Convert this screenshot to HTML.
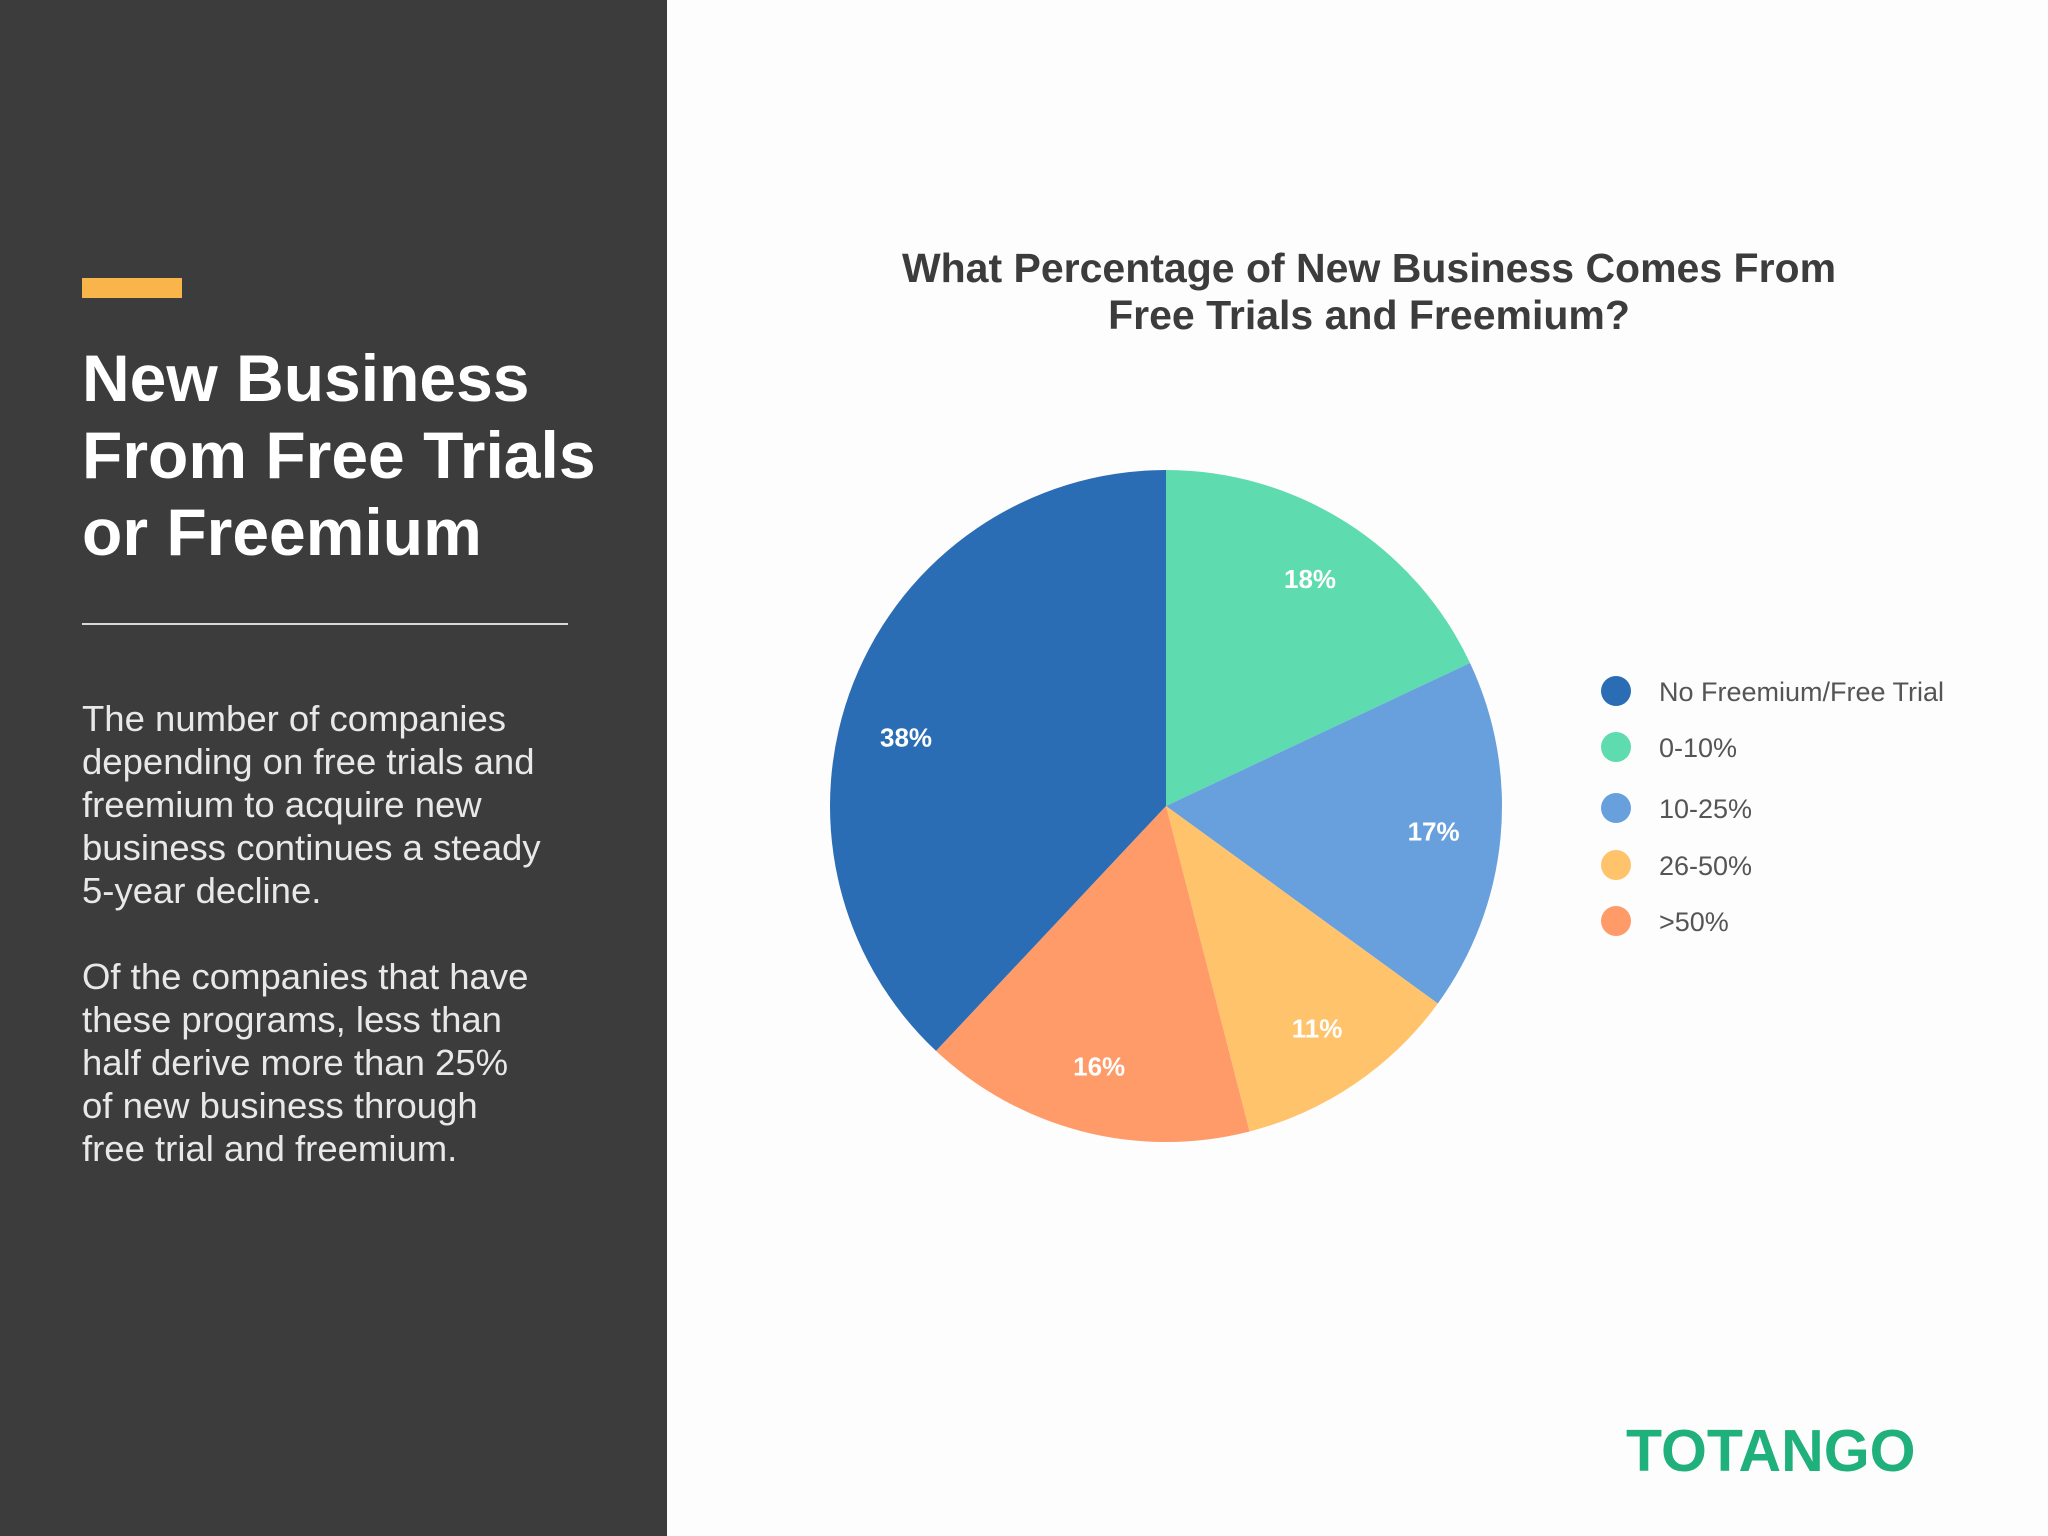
<!DOCTYPE html>
<html><head><meta charset="utf-8"><style>
body{margin:0;width:2048px;height:1536px;overflow:hidden;background:#fdfdfd;font-family:"Liberation Sans",sans-serif;position:relative}
#panel{position:absolute;left:0;top:0;width:667px;height:1536px;background:#3d3c3d}
#bar{position:absolute;left:82px;top:278px;width:100px;height:20px;background:#f9b54a}
#title{position:absolute;left:82px;top:340px;color:#fff;font-weight:bold;font-size:66px;line-height:77px}
#rule{position:absolute;left:82px;top:623px;width:486px;height:2px;background:#d8d8d8}
.body{position:absolute;left:82px;color:#e8e8e8;font-size:36.5px;line-height:43px}
#ctitle{position:absolute;left:769px;width:1200px;top:245px;text-align:center;color:#3d3c3d;font-weight:bold;font-size:41px;line-height:47px}
#logo{position:absolute;left:1626px;top:1417px;color:#1fb07c;font-weight:bold;font-size:59px;letter-spacing:0px}
</style></head><body>
<div id="panel"></div>
<div id="bar"></div>
<div id="title">New Business<br>From Free Trials<br>or Freemium</div>
<div id="rule"></div>
<div class="body" style="top:697px">The number of companies<br>depending on free trials and<br>freemium to acquire new<br>business continues a steady<br>5-year decline.</div>
<div class="body" style="top:955px">Of the companies that have<br>these programs, less than<br>half derive more than 25%<br>of new business through<br>free trial and freemium.</div>
<div id="ctitle">What Percentage of New Business Comes From<br>Free Trials and Freemium?</div>
<svg id="chart" width="2048" height="1536" style="position:absolute;left:0;top:0"></svg>
<div id="logo">TOTANGO</div>
<script>
const categories=["0-10%","10-25%","26-50%",">50%","No Freemium/Free Trial"];
const values=[18,17,11,16,38];
const colors=["#5fdbb0","#68a0dd","#ffc36b","#ff9a69","#2a6db5"];
const legendOrder=["No Freemium/Free Trial","0-10%","10-25%","26-50%",">50%"];
const svg=document.getElementById('chart');const NS='http://www.w3.org/2000/svg';
const cx=1166,cy=806,r=336;
const total=values.reduce((a,b)=>a+b,0);
let a0=0;
values.forEach((v,i)=>{
 const a1=a0+v/total*2*Math.PI;
 const p=(a)=>[cx+r*Math.sin(a),cy-r*Math.cos(a)];
 const [x0,y0]=p(a0),[x1,y1]=p(a1);
 const path=document.createElementNS(NS,'path');
 path.setAttribute('d',`M${cx},${cy}L${x0},${y0}A${r},${r} 0 ${a1-a0>Math.PI?1:0} 1 ${x1},${y1}Z`);
 path.setAttribute('fill',colors[i]);
 
 
 svg.appendChild(path);
 let am=(a0+a1)/2;
 if(v/total>0.3) am-=0.12;
 const t=document.createElementNS(NS,'text');
 t.setAttribute('x',cx+0.8*r*Math.sin(am));t.setAttribute('y',cy-0.8*r*Math.cos(am)+9);
 t.setAttribute('text-anchor','middle');t.setAttribute('fill','#fff');t.setAttribute('font-weight','bold');t.setAttribute('font-size','26');t.setAttribute('font-family','Liberation Sans');
 t.textContent=v+'%';
 
 
 svg.appendChild(t);
 a0=a1;
});
const ly=[691,747,808,865,921];
legendOrder.forEach((c,j)=>{
 const i=categories.indexOf(c);
 const g=document.createElementNS(NS,'g');
 
 
 const ci=document.createElementNS(NS,'circle');
 ci.setAttribute('cx',1616);ci.setAttribute('cy',ly[j]);ci.setAttribute('r',15);ci.setAttribute('fill',colors[i]);
 g.appendChild(ci);
 const t=document.createElementNS(NS,'text');
 t.setAttribute('x',1659);t.setAttribute('y',ly[j]+10);t.setAttribute('font-size','27');t.setAttribute('fill','#555');t.setAttribute('font-family','Liberation Sans');
 t.textContent=c;g.appendChild(t);
 svg.appendChild(g);
});
</script>
</body></html>
